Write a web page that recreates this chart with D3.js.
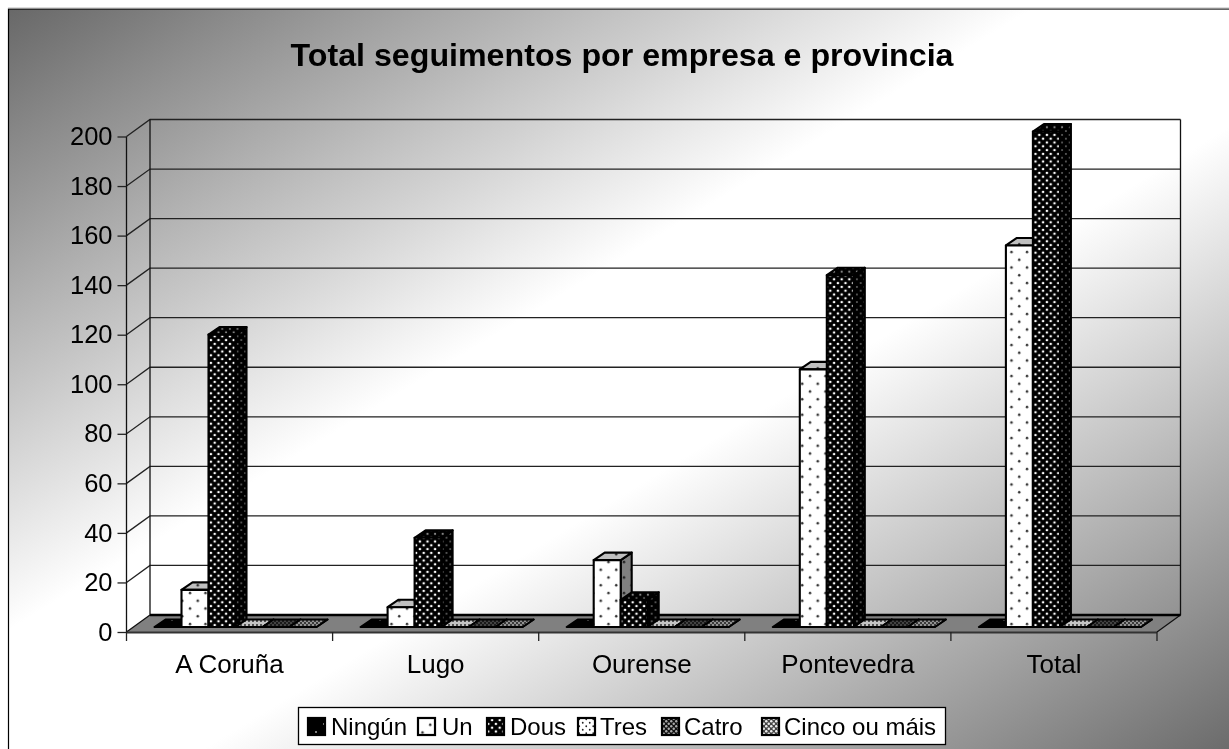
<!DOCTYPE html>
<html><head><meta charset="utf-8">
<script src="https://cdn.jsdelivr.net/npm/d3@7"></script>
<style>html,body{margin:0;padding:0;background:#fff;overflow:hidden}svg{display:block;filter:blur(0.35px)}text{font-family:"Liberation Sans",Arial,sans-serif;fill:#000}</style>
</head><body><svg id="c" width="1229" height="749"></svg>
<script>
const titleText = "Total seguimentos por empresa e provincia";
const categories = ["A Coruña","Lugo","Ourense","Pontevedra","Total"];
const seriesNames = ["Ningún","Un","Dous","Tres","Catro","Cinco ou máis"];
const ningun = [0,0,0,0,0];
const un = [15,8,27,104,154];
const dous = [118,36,11,142,200];
const tres = [0,0,0,0,0];
const catro = [0,0,0,0,0];
const cinco = [0,0,0,0,0];
const seriesValues = [ningun,un,dous,tres,catro,cinco];
const yTicks = [0,20,40,60,80,100,120,140,160,180,200];

const svg = d3.select("#c"), defs = svg.append("defs");
const depth = {wx:23.5, wy:-17, bx:11, by:-7.5, ox:6, oy:-5};
const x0 = d3.scaleBand().domain(categories).range([126.5,1157]);
const x1 = d3.scaleBand().domain(seriesNames).range([22,184]);
const y = d3.scaleLinear().domain([0,200]).range([632,136.5]);

// background
const bg = defs.append("linearGradient").attr("id","bg").attr("gradientUnits","userSpaceOnUse")
  .attr("x1",290).attr("y1",-162).attr("x2",946).attr("y2",920);
[[0,"#686868"],[0.42,"#ffffff"],[0.58,"#ffffff"],[1,"#6c6c6c"]].forEach(s=>bg.append("stop").attr("offset",s[0]).attr("stop-color",s[1]));
function pat(id,size,base,dots,r,col){
  const p = defs.append("pattern").attr("id",id).attr("patternUnits","userSpaceOnUse").attr("width",size).attr("height",size);
  p.append("rect").attr("width",size).attr("height",size).attr("fill",base);
  dots.forEach(d=>p.append("circle").attr("cx",d[0]).attr("cy",d[1]).attr("r",r).attr("fill",col));
}
const sp=[[4,4],[12,12]], dn=[[1.9,1.9],[5.7,5.7]], un2=[[4,4],[11.75,11.75]], tr=[[1.75,1.75],[5.25,5.25]], ch=[[1,1],[3,3]];
pat("n0",16,"#000",sp,1,"#aaa"); pat("n1",16,"#000",sp,1.1,"#888"); pat("n2",16,"#000",sp,1,"#555");
pat("u0",15.5,"#fff",un2,1.25,"#333"); pat("u1",15.5,"#c0c0c0",un2,1.25,"#333"); pat("u2",15.5,"#808080",un2,1.25,"#222");
pat("d0",7.6,"#000",dn,1.3,"#fff"); pat("d1",7.6,"#000",dn,1.1,"#888"); pat("d2",7.6,"#000",dn,1,"#666");
pat("t0",7,"#fff",tr,.9,"#222"); pat("t1",4,"#c4c4c4",[[1,1]],.95,"#222"); pat("t2",7,"#808080",tr,.8,"#222");
pat("c0",5,"#111",[[1.25,1.25],[3.75,3.75]],1.2,"#aaa"); pat("c1",4,"#1a1a1a",ch,.8,"#777"); pat("c2",4,"#222",ch,.8,"#666");
pat("f0",5,"#444",[[1.25,1.25],[3.75,3.75]],1.25,"#eee"); pat("f1",4,"#3a3a3a",ch,.9,"#bbb"); pat("f2",4,"#444",ch,.9,"#999");
const pats = ["n","u","d","t","c","f"];

svg.append("rect").attr("x",8.5).attr("y",9).attr("width",1260).attr("height",780).attr("fill","url(#bg)").attr("stroke","#000").attr("stroke-width",1.2);
svg.append("line").attr("x1",8).attr("x2",1229).attr("y1",8).attr("y2",8).attr("stroke","#bbb");

svg.append("text").attr("x",622).attr("y",66).attr("text-anchor","middle").attr("font-size",32.2).attr("font-weight","bold").text(titleText);

const L=x0.range()[0], R=x0.range()[1], bot=y(0);
const g = svg.append("g");
// floor
g.append("path").attr("d",`M${L},${bot}L${L+depth.wx},${bot+depth.wy}L${R+depth.wx},${bot+depth.wy}L${R},${bot}Z`).attr("fill","#808080");
// grid
yTicks.forEach(v=>{
  const yy=y(v);
  if(v>0) g.append("path").attr("fill","none").attr("stroke","#222").attr("stroke-width",1.3)
    .attr("d",`M${L},${yy}L${L+depth.wx},${yy+depth.wy}L${R+depth.wx},${yy+depth.wy}`);
});
g.append("path").attr("fill","none").attr("stroke","#111").attr("stroke-width",1.3)
  .attr("d",`M${L},${y(200)}V${bot}M${L+depth.wx},${y(200)+depth.wy}V${bot+depth.wy}M${R+depth.wx},${y(200)+depth.wy}V${bot+depth.wy}L${R},${bot}M${L},${bot}L${L+depth.wx},${bot+depth.wy}`);
g.append("line").attr("x1",L+depth.wx).attr("x2",R+depth.wx).attr("y1",bot+depth.wy).attr("y2",bot+depth.wy).attr("stroke","#000").attr("stroke-width",2.4);
g.append("line").attr("x1",L).attr("x2",R).attr("y1",bot+.5).attr("y2",bot+.5).attr("stroke","#333").attr("stroke-width",1.8);

// axes
const ya = svg.append("g").attr("transform",`translate(${L},0)`).call(d3.axisLeft(y).tickValues(yTicks).tickSize(9).tickPadding(5));
ya.select(".domain").remove();
ya.selectAll("text").attr("font-size",25.5).attr("font-family",'"Liberation Sans"').attr("fill","#000");
ya.selectAll("line").attr("stroke","#222").attr("stroke-width",1.3);
const xa = svg.append("g").attr("transform",`translate(0,${bot})`).call(d3.axisBottom(x0).tickSize(0).tickPadding(23));
xa.select(".domain").remove();
xa.selectAll("text").attr("font-size",26).attr("font-family",'"Liberation Sans"').attr("fill","#000");
[...categories.map(c=>x0(c)),R].forEach(px=>svg.append("line").attr("x1",px).attr("x2",px).attr("y1",bot).attr("y2",bot+9).attr("stroke","#222").attr("stroke-width",1.3));

// bars
categories.forEach((c,ci)=>{
  seriesNames.forEach((s,si)=>{
    const v=seriesValues[si][ci];
    const xl=x0(c)+x1(s)+depth.ox, w=x1.bandwidth(), xr=xl+w;
    const yb=y(0)+depth.oy, yt=y(v)+depth.oy, dx=depth.bx, dy=depth.by;
    const b=g.append("g").attr("stroke","#000").attr("stroke-width",2.1).attr("stroke-linejoin","round");
    b.append("path").attr("fill",`url(#${pats[si]}2)`).attr("d",`M${xr},${yb}L${xr+dx},${yb+dy}L${xr+dx},${yt+dy}L${xr},${yt}Z`);
    b.append("path").attr("fill",`url(#${pats[si]}1)`).attr("d",`M${xl},${yt}L${xl+dx},${yt+dy}L${xr+dx},${yt+dy}L${xr},${yt}Z`);
    if(v>0) b.append("rect").attr("x",xl).attr("y",yt).attr("width",w).attr("height",yb-yt).attr("fill",`url(#${pats[si]}0)`);
  });
});

// legend
const lx=[308,418,487,578,662,762];
const tx=[331,442,510,600,684,784];
svg.append("rect").attr("x",298.5).attr("y",707.5).attr("width",647).attr("height",37).attr("fill","#fff").attr("stroke","#000").attr("stroke-width",1.3);
seriesNames.forEach((s,i)=>{
  svg.append("rect").attr("x",lx[i]).attr("y",718).attr("width",17).attr("height",17).attr("fill",`url(#${pats[i]}0)`).attr("stroke","#000").attr("stroke-width",2.2);
  svg.append("text").attr("x",tx[i]).attr("y",735).attr("font-size",24).text(s);
});
</script></body></html>
